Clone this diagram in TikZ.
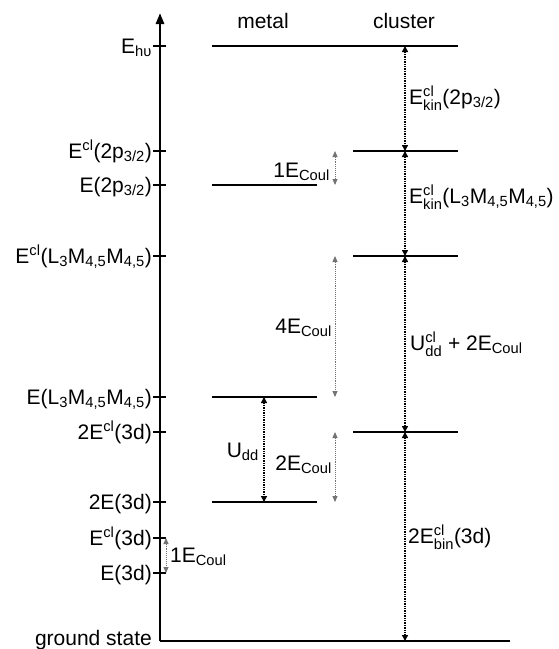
\documentclass[tikz,border=0pt]{standalone}
\usepackage{amsmath}
\usepackage{fontspec}
\setmainfont{Liberation Sans}
\usetikzlibrary{arrows.meta}
\newcommand\lo[1]{\ensuremath{_{\text{#1}}}}
\newcommand\hi[1]{\ensuremath{^{\text{#1}}}}
\newcommand\hilo[2]{\ensuremath{^{\text{#1}}_{\text{#2}}}}
\tikzset{
  level/.style={line width=2.6pt},
  gap/.style={densely dotted,line width=1.4pt,
    {Triangle[length=6pt,width=6pt]}-{Triangle[length=6pt,width=6pt]}},
  coul/.style={densely dotted,line width=0.9pt,black!55,
    {Triangle[length=6pt,width=5pt]}-{Triangle[length=6pt,width=5pt]}},
  lab/.style={font=\fontsize{21}{25}\selectfont,inner sep=0pt}
}
\begin{document}
\begin{tikzpicture}[x=1pt,y=-1pt]
  \useasboundingbox (0,0) rectangle (558,649);
  % axis and ground state
  \coordinate (o) at (160,641);
  \coordinate (top) at (160,13);
  \coordinate (gr) at (510,641);
  \draw[level,-{Triangle[length=11pt,width=8pt]}] (o) -- (top);
  \draw[level] (o) -- (gr);
  \node[lab,anchor=base east] (gs) at (152,645) {ground state};
  \node[lab,anchor=base] (metal) at (263,28) {metal};
  \node[lab,anchor=base] (cluster) at (404,28) {cluster};
  % ticks on the axis
  \foreach \y in {46,151,185,256,397,432,502,538,573}
    \draw[level] (153,\y) -- (166,\y);
  \node[lab,anchor=base east] (lhv) at (152,53) {E\lo{hυ}};
  \node[lab,anchor=base east] (lpcl) at (152,158) {E\hi{cl}(2p\lo{3/2})};
  \node[lab,anchor=base east] (lp) at (152,192) {E(2p\lo{3/2})};
  \node[lab,anchor=base east] (laugcl) at (152,263) {E\hi{cl}(L\lo{3}M\lo{4,5}M\lo{4,5})};
  \node[lab,anchor=base east] (laug) at (152,404) {E(L\lo{3}M\lo{4,5}M\lo{4,5})};
  \node[lab,anchor=base east] (ldcl2) at (152,439) {2E\hi{cl}(3d)};
  \node[lab,anchor=base east] (ld2) at (152,509) {2E(3d)};
  \node[lab,anchor=base east] (ldcl) at (152,545) {E\hi{cl}(3d)};
  \node[lab,anchor=base east] (ld) at (152,580) {E(3d)};
  % levels
  \coordinate (hvL) at (212,46);   \coordinate (hvR) at (458,46);
  \coordinate (pclL) at (353,151); \coordinate (pclR) at (458,151);
  \coordinate (pL) at (212,185);   \coordinate (pR) at (317,185);
  \coordinate (aclL) at (353,256); \coordinate (aclR) at (458,256);
  \coordinate (aL) at (212,397);   \coordinate (aR) at (317,397);
  \coordinate (dclL) at (353,432); \coordinate (dclR) at (458,432);
  \coordinate (dL) at (212,502);   \coordinate (dR) at (317,502);
  \foreach \a/\b in {hvL/hvR,pclL/pclR,pL/pR,aclL/aclR,aL/aR,dclL/dclR,dL/dR}
    \draw[level] (\a) -- (\b);
  % cluster gaps
  \coordinate (c1) at (405,46);
  \coordinate (c2) at (405,151);
  \coordinate (c3) at (405,256);
  \coordinate (c4) at (405,432);
  \coordinate (c5) at (405,641);
  \draw[gap] (c1) -- (c2);
  \draw[gap] (c2) -- (c3);
  \draw[gap] (c3) -- (c4);
  \draw[gap] (c4) -- (c5);
  \node[lab,anchor=base west] (kinp) at (409,104) {E\hilo{cl}{kin}(2p\lo{3/2})};
  \node[lab,anchor=base west] (kina) at (409,203) {E\hilo{cl}{kin}(L\lo{3}M\lo{4,5}M\lo{4,5})};
  \node[lab,anchor=base west] (udcl) at (410,350) {U\hilo{cl}{dd} + 2E\lo{Coul}};
  \node[lab,anchor=base west] (bin) at (408,543) {2E\hilo{cl}{bin}(3d)};
  % metal gap
  \coordinate (m1) at (264,397);
  \coordinate (m2) at (264,502);
  \draw[gap] (m1) -- (m2);
  \node[lab,anchor=base east] (udd) at (259,457) {U\lo{dd}};
  % Coulomb shifts
  \coordinate (k1) at (335,151);
  \coordinate (k2) at (335,185);
  \coordinate (k3) at (335,256);
  \coordinate (k4) at (335,397);
  \coordinate (k5) at (335,432);
  \coordinate (k6) at (335,502);
  \coordinate (k7) at (166,538);
  \coordinate (k8) at (166,573);
  \draw[coul] (k1) -- (k2);
  \draw[coul] (k3) -- (k4);
  \draw[coul] (k5) -- (k6);
  \draw[coul] (k7) -- (k8);
  \node[lab,anchor=base east] (c1E) at (330,177) {1E\lo{Coul}};
  \node[lab,anchor=base east] (c4E) at (332,333) {4E\lo{Coul}};
  \node[lab,anchor=base east] (c2E) at (332,470) {2E\lo{Coul}};
  \node[lab,anchor=base west] (c1Eb) at (170,562) {1E\lo{Coul}};
\end{tikzpicture}
\end{document}
